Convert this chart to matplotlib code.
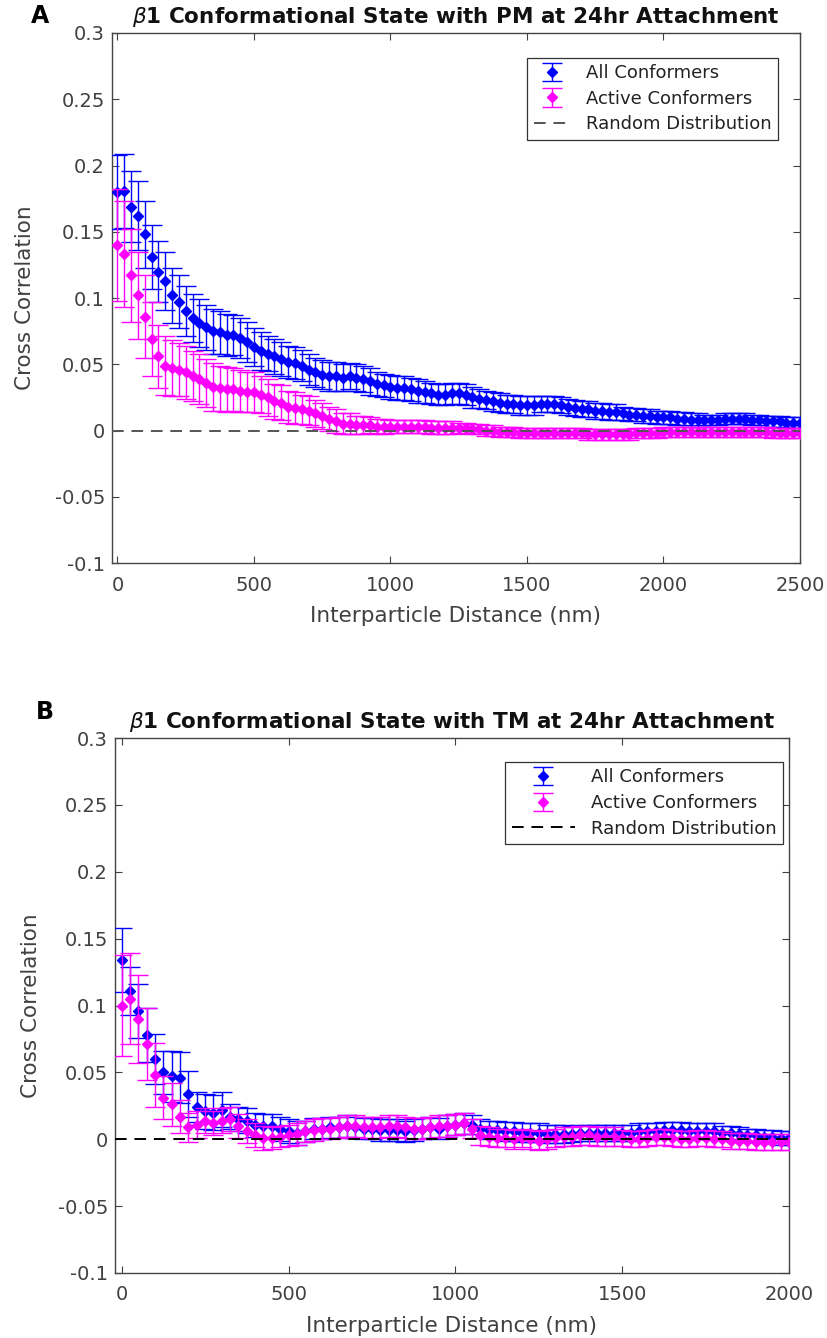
import numpy as np
import matplotlib.pyplot as plt
import matplotlib as mpl

mpl.rcParams['font.family'] = 'DejaVu Sans'
mpl.rcParams['mathtext.fontset'] = 'dejavusans'
mpl.rcParams['axes.linewidth'] = 1.0

# interparticle distance (nm), sampled every 25 nm
r_pm = np.arange(0, 2501, 25)
r_tm = np.arange(0, 2001, 25)

# --- PM, 24 hr ---
pm_all = [
    0.180, 0.181, 0.169, 0.162, 0.148, 0.131, 0.120, 0.113, 0.102, 0.097,
    0.090, 0.085, 0.081, 0.078, 0.075, 0.074, 0.072, 0.072, 0.070, 0.067,
    0.063, 0.060, 0.058, 0.056, 0.054, 0.052, 0.051, 0.049, 0.046, 0.044,
    0.042, 0.041, 0.041, 0.040, 0.041, 0.040, 0.039, 0.037, 0.035, 0.034,
    0.033,
    0.032, 0.032, 0.031, 0.030, 0.029, 0.028, 0.027, 0.027, 0.028, 0.028,
    0.027, 0.025, 0.024, 0.023, 0.022, 0.021, 0.020, 0.020, 0.019, 0.019,
    0.019, 0.020, 0.020, 0.020, 0.019, 0.018, 0.017, 0.016, 0.016, 0.015,
    0.015, 0.014, 0.014, 0.013, 0.012, 0.012, 0.011, 0.011, 0.010, 0.010,
    0.010, 0.009, 0.009, 0.008, 0.008, 0.008, 0.008, 0.008, 0.009, 0.009,
    0.009, 0.009, 0.008, 0.008, 0.007, 0.007, 0.007, 0.006, 0.006, 0.006,
]
pm_all_err = [
    0.028, 0.028, 0.027, 0.026, 0.025, 0.024, 0.023, 0.022, 0.021, 0.020,
    0.019, 0.018, 0.018, 0.017, 0.017, 0.016, 0.016, 0.015, 0.015, 0.015,
    0.014, 0.014, 0.013, 0.013, 0.013, 0.012, 0.012, 0.012, 0.012, 0.011,
    0.011, 0.011, 0.011, 0.010, 0.010, 0.010, 0.010, 0.010, 0.009, 0.009,
    0.009,
    0.009, 0.009, 0.009, 0.009, 0.008, 0.008, 0.008, 0.008, 0.008, 0.008,
    0.008, 0.008, 0.007, 0.007, 0.007, 0.007, 0.007, 0.007, 0.007, 0.007,
    0.007, 0.006, 0.006, 0.006, 0.006, 0.006, 0.006, 0.006, 0.006, 0.006,
    0.006, 0.006, 0.006, 0.005, 0.005, 0.005, 0.005, 0.005, 0.005, 0.005,
    0.005, 0.005, 0.005, 0.005, 0.005, 0.004, 0.004, 0.004, 0.004, 0.004,
    0.004, 0.004, 0.004, 0.004, 0.004, 0.004, 0.004, 0.004, 0.004, 0.004,
]
pm_active = [
    0.140, 0.133, 0.117, 0.102, 0.086, 0.069, 0.056, 0.049, 0.047, 0.046,
    0.044, 0.041, 0.039, 0.036, 0.033, 0.032, 0.031, 0.031, 0.030, 0.029,
    0.029, 0.027, 0.025, 0.022, 0.021, 0.018, 0.017, 0.016, 0.015, 0.013,
    0.011, 0.009, 0.007, 0.005, 0.005, 0.004, 0.004, 0.004, 0.003, 0.003,
    0.003,
    0.003, 0.003, 0.003, 0.003, 0.003, 0.002, 0.002, 0.002, 0.002, 0.002,
    0.002, 0.001, 0.001, 0.000, 0.000, -0.001, -0.001, -0.001, -0.002, -0.002,
    -0.002, -0.002, -0.002, -0.002, -0.002, -0.002, -0.002, -0.002, -0.003, -0.003,
    -0.003, -0.003, -0.003, -0.003, -0.003, -0.002, -0.002, -0.002, -0.002, -0.001,
    -0.001, -0.001, -0.001, -0.001, -0.001, -0.001, -0.001, -0.001, -0.001, -0.001,
    -0.001, -0.001, -0.001, -0.001, -0.001, -0.002, -0.002, -0.002, -0.002, -0.002,
]
pm_active_err = [
    0.042, 0.040, 0.035, 0.033, 0.031, 0.028, 0.024, 0.022, 0.021, 0.020,
    0.020, 0.019, 0.019, 0.018, 0.018, 0.017, 0.017, 0.016, 0.016, 0.015,
    0.015, 0.014, 0.014, 0.013, 0.013, 0.012, 0.012, 0.011, 0.011, 0.010,
    0.010, 0.009, 0.009, 0.008, 0.008, 0.007, 0.007, 0.006, 0.006, 0.006,
    0.005,
    0.005, 0.005, 0.005, 0.005, 0.005, 0.005, 0.005, 0.005, 0.005, 0.004,
    0.004, 0.004, 0.004, 0.004, 0.004, 0.004, 0.004, 0.004, 0.004, 0.004,
    0.004, 0.004, 0.004, 0.004, 0.004, 0.004, 0.004, 0.004, 0.004, 0.004,
    0.004, 0.004, 0.004, 0.004, 0.004, 0.004, 0.004, 0.004, 0.004, 0.004,
    0.004, 0.004, 0.004, 0.004, 0.004, 0.004, 0.004, 0.004, 0.004, 0.004,
    0.004, 0.004, 0.004, 0.004, 0.004, 0.004, 0.004, 0.004, 0.004, 0.004,
]

# --- TM, 24 hr ---
tm_all = [
    0.134, 0.111, 0.096, 0.078, 0.060, 0.050, 0.047, 0.046, 0.034, 0.024,
    0.021, 0.020, 0.022, 0.017, 0.015, 0.014, 0.011, 0.010, 0.010, 0.008,
    0.006, 0.005, 0.006, 0.008, 0.008, 0.009, 0.009, 0.010, 0.009, 0.008,
    0.008, 0.007, 0.007, 0.007, 0.006, 0.007, 0.008, 0.009, 0.008, 0.010,
    0.011, 0.012, 0.011, 0.008, 0.007, 0.007, 0.006, 0.006, 0.005, 0.005,
    0.005, 0.004, 0.004, 0.004, 0.004, 0.005, 0.005, 0.005, 0.005, 0.005,
    0.005, 0.005, 0.006, 0.006, 0.006, 0.007, 0.007, 0.007, 0.006, 0.006,
    0.006, 0.006, 0.005, 0.005, 0.004, 0.003, 0.003, 0.002, 0.002, 0.001,
    0.001,
]
tm_all_err = [
    0.024, 0.018, 0.020, 0.020, 0.019, 0.016, 0.019, 0.019, 0.017, 0.011,
    0.013, 0.013, 0.013, 0.009, 0.009, 0.009, 0.009, 0.009, 0.009, 0.009,
    0.009, 0.009, 0.008, 0.008, 0.008, 0.008, 0.008, 0.008, 0.008, 0.008,
    0.008, 0.008, 0.008, 0.008, 0.008, 0.008, 0.008, 0.008, 0.008, 0.008,
    0.008, 0.008, 0.007, 0.007, 0.007, 0.007, 0.007, 0.007, 0.007, 0.007,
    0.007, 0.007, 0.007, 0.007, 0.006, 0.006, 0.006, 0.006, 0.006, 0.006,
    0.006, 0.006, 0.006, 0.006, 0.006, 0.006, 0.006, 0.006, 0.006, 0.006,
    0.006, 0.006, 0.005, 0.005, 0.005, 0.005, 0.005, 0.005, 0.005, 0.005,
    0.005,
]
tm_active = [
    0.100, 0.105, 0.090, 0.071, 0.048, 0.031, 0.026, 0.017, 0.009, 0.011,
    0.014, 0.012, 0.014, 0.015, 0.010, 0.006, 0.003, 0.001, 0.001, 0.002,
    0.003, 0.004, 0.006, 0.007, 0.008, 0.008, 0.009, 0.010, 0.010, 0.009,
    0.009, 0.009, 0.010, 0.010, 0.009, 0.008, 0.008, 0.009, 0.010, 0.010,
    0.011, 0.012, 0.008, 0.003, 0.002, 0.001, 0.001, 0.000, 0.001, 0.000,
    -0.001, 0.000, 0.001, 0.002, 0.002, 0.003, 0.003, 0.002, 0.002, 0.002,
    0.001, 0.000, 0.000, 0.001, 0.002, 0.002, 0.001, 0.000, 0.000, 0.001,
    0.001, 0.000, 0.000, -0.001, -0.001, -0.001, -0.002, -0.002, -0.002, -0.002,
    -0.002,
]
tm_active_err = [
    0.038, 0.034, 0.033, 0.027, 0.024, 0.016, 0.016, 0.012, 0.011, 0.010,
    0.009, 0.009, 0.009, 0.009, 0.009, 0.009, 0.009, 0.009, 0.008, 0.008,
    0.008, 0.008, 0.008, 0.008, 0.008, 0.008, 0.008, 0.008, 0.008, 0.008,
    0.008, 0.008, 0.008, 0.008, 0.008, 0.008, 0.008, 0.008, 0.008, 0.008,
    0.008, 0.008, 0.007, 0.007, 0.007, 0.007, 0.007, 0.007, 0.007, 0.007,
    0.007, 0.007, 0.007, 0.007, 0.007, 0.007, 0.007, 0.007, 0.007, 0.007,
    0.006, 0.006, 0.006, 0.006, 0.006, 0.006, 0.006, 0.006, 0.006, 0.006,
    0.006, 0.006, 0.006, 0.006, 0.006, 0.006, 0.006, 0.006, 0.006, 0.006,
    0.006,
]

random_level = 0.0
yticks = [-0.1, -0.05, 0, 0.05, 0.1, 0.15, 0.2, 0.25, 0.3]
ytick_labels = ['-0.1', '-0.05', '0', '0.05', '0.1', '0.15', '0.2', '0.25', '0.3']

BLUE = '#0000ff'
MAGENTA = '#ff00ff'
TEXT = '#404040'

W, H = 828, 1338
fig = plt.figure(figsize=(W / 100, H / 100), dpi=100)


def px_axes(left, top, right, bottom):
    return fig.add_axes([left / W, 1 - bottom / H, (right - left) / W, (bottom - top) / H])


def draw_panel(ax, r, all_v, all_e, act_v, act_e, xmax, xticks, dash_color, title,
               leg_anchor, ylab_x, handlelen):
    h_all = ax.errorbar(r, all_v, yerr=all_e, fmt='D', color=BLUE, ms=5.5, mec=BLUE,
                        elinewidth=1.0, capsize=7, capthick=1.0, label='All Conformers', zorder=3)
    h_act = ax.errorbar(r, act_v, yerr=act_e, fmt='D', color=MAGENTA, ms=5.5, mec=MAGENTA,
                        elinewidth=1.0, capsize=7, capthick=1.0, label='Active Conformers', zorder=4)
    h_rnd = ax.axhline(random_level, color=dash_color, ls=(0, (6, 4)), lw=1.4,
                       label='Random Distribution', zorder=5)

    ax.set_xlim(-20, xmax)
    ax.set_ylim(-0.1, 0.3)
    ax.set_xticks(xticks)
    ax.set_yticks(yticks)
    ax.set_yticklabels(ytick_labels)
    ax.tick_params(direction='in', top=True, right=True, length=5, width=0.8,
                   labelsize=14, colors=TEXT)
    ax.tick_params(axis='x', pad=9)
    ax.tick_params(axis='y', pad=5)
    for s in ax.spines.values():
        s.set_color('#444444')
    ax.set_xlabel('Interparticle Distance (nm)', fontsize=15.5, color=TEXT, labelpad=8)
    ax.set_ylabel('Cross Correlation', fontsize=15.5, color=TEXT)
    ax.yaxis.set_label_coords(ylab_x, 0.5)
    ax.set_title(title, fontsize=15.5, fontweight='bold', color='#111111', pad=7)

    leg = ax.legend([h_all, h_act, h_rnd],
                    ['All Conformers', 'Active Conformers', 'Random Distribution'],
                    loc='upper right', bbox_to_anchor=leg_anchor, borderaxespad=0,
                    fontsize=13, frameon=True, fancybox=False, edgecolor='#333333',
                    framealpha=1, handlelength=handlelen, borderpad=0.35,
                    labelspacing=0.42, handletextpad=0.9)
    leg.get_frame().set_linewidth(0.9)
    for t in leg.get_texts():
        t.set_color('#222222')
    return ax


ax_a = px_axes(112, 33, 800, 563)
draw_panel(ax_a, r_pm, pm_all, pm_all_err, pm_active, pm_active_err,
           2500, [0, 500, 1000, 1500, 2000, 2500], '#555555',
           r'$\beta$1 Conformational State with PM at 24hr Attachment',
           (0.968, 0.953), -0.112, 2.0)

ax_b = px_axes(115, 738, 789, 1273)
draw_panel(ax_b, r_tm, tm_all, tm_all_err, tm_active, tm_active_err,
           2000, [0, 500, 1000, 1500, 2000], '#000000',
           r'$\beta$1 Conformational State with TM at 24hr Attachment',
           (0.991, 0.955), -0.11, 3.5)

fig.text(40 / W, 1 - 16 / H, 'A', fontsize=17, fontweight='bold', ha='center', va='center')
fig.text(45 / W, 1 - 712 / H, 'B', fontsize=17, fontweight='bold', ha='center', va='center')

fig.savefig('out.png', dpi=100)
